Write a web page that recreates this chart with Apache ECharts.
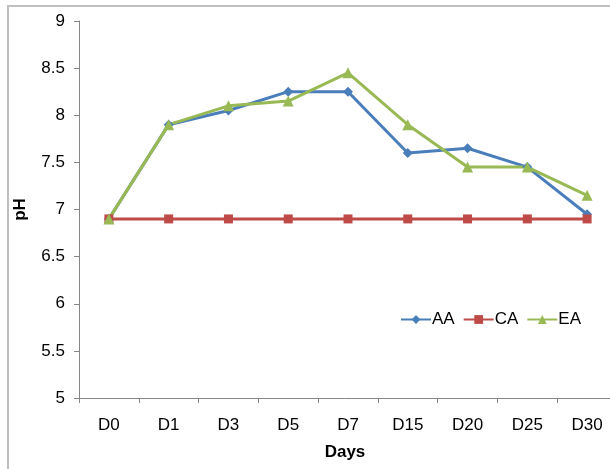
<!DOCTYPE html>
<html>
<head>
<meta charset="utf-8">
<script src="https://cdn.jsdelivr.net/npm/echarts@6/dist/echarts.min.js"></script>
<style>
  html, body { margin: 0; padding: 0; background: #fff; }
  #chart { width: 610px; height: 469px; }
</style>
</head>
<body>
<div id="chart"></div>
<script>
// data
const days = ['D0', 'D1', 'D3', 'D5', 'D7', 'D15', 'D20', 'D25', 'D30'];
const aaValues = [6.9, 7.9, 8.05, 8.25, 8.25, 7.6, 7.65, 7.45, 6.95];
const caValues = [6.9, 6.9, 6.9, 6.9, 6.9, 6.9, 6.9, 6.9, 6.9];
const eaValues = [6.9, 7.9, 8.1, 8.15, 8.45, 7.9, 7.45, 7.45, 7.15];

const axisColor = '#868686';
const font = 'Liberation Sans, Arial, sans-serif';

const chart = echarts.init(document.getElementById('chart'));

const option = {
  backgroundColor: '#fff',
  textStyle: { fontFamily: font },
  animation: false,
  graphic: [
    {
      type: 'rect',
      shape: { x: 8, y: 6, width: 700, height: 600 },
      style: { fill: 'none', stroke: '#bfbfbf', lineWidth: 2 },
      silent: true
    }
  ],
  grid: {
    left: 79,
    width: 538,
    top: 21,
    height: 377,
    outerBoundsMode: 'none',
    containLabel: false
  },
  legend: {
    data: ['AA', 'CA', 'EA'],
    left: 395,
    top: 306,
    itemWidth: 30,
    itemHeight: 11,
    itemGap: 8,
    textStyle: { fontSize: 17, color: '#000', fontFamily: font, padding: [0, 0, 0, -4] }
  },
  xAxis: {
    type: 'category',
    data: days,
    boundaryGap: true,
    name: 'Days',
    nameLocation: 'middle',
    nameGap: 46,
    nameTextStyle: { fontSize: 17, fontWeight: 'bold', color: '#000', align: 'center', padding: [0, 0, 0, -6] },
    axisLine: { lineStyle: { color: axisColor, width: 1 } },
    axisTick: { show: true, length: 5, lineStyle: { color: axisColor } },
    axisLabel: { fontSize: 17, color: '#000', margin: 19 },
    splitLine: { show: false }
  },
  yAxis: {
    type: 'value',
    min: 5,
    max: 9,
    interval: 0.5,
    name: 'pH',
    nameLocation: 'middle',
    nameGap: 50,
    nameRotate: 90,
    nameTextStyle: { fontSize: 17, fontWeight: 'bold', color: '#000' },
    axisLine: { show: true, lineStyle: { color: axisColor, width: 1 } },
    axisTick: { show: true, inside: false, length: 5, lineStyle: { color: axisColor } },
    axisLabel: { fontSize: 17, color: '#000', margin: 14 },
    splitLine: { show: false }
  },
  series: [
    {
      name: 'AA',
      type: 'line',
      data: aaValues,
      color: '#4a7ebb',
      symbol: 'diamond',
      symbolSize: 10,
      lineStyle: { width: 3 },
      itemStyle: { color: '#4a7ebb' }
    },
    {
      name: 'CA',
      type: 'line',
      data: caValues,
      color: '#be4b48',
      symbol: 'rect',
      symbolSize: 9,
      lineStyle: { width: 3 },
      itemStyle: { color: '#be4b48' }
    },
    {
      name: 'EA',
      type: 'line',
      data: eaValues,
      color: '#98b954',
      symbol: 'triangle',
      symbolSize: 11,
      lineStyle: { width: 3 },
      itemStyle: { color: '#98b954' }
    }
  ]
};

chart.setOption(option);
</script>
</body>
</html>
